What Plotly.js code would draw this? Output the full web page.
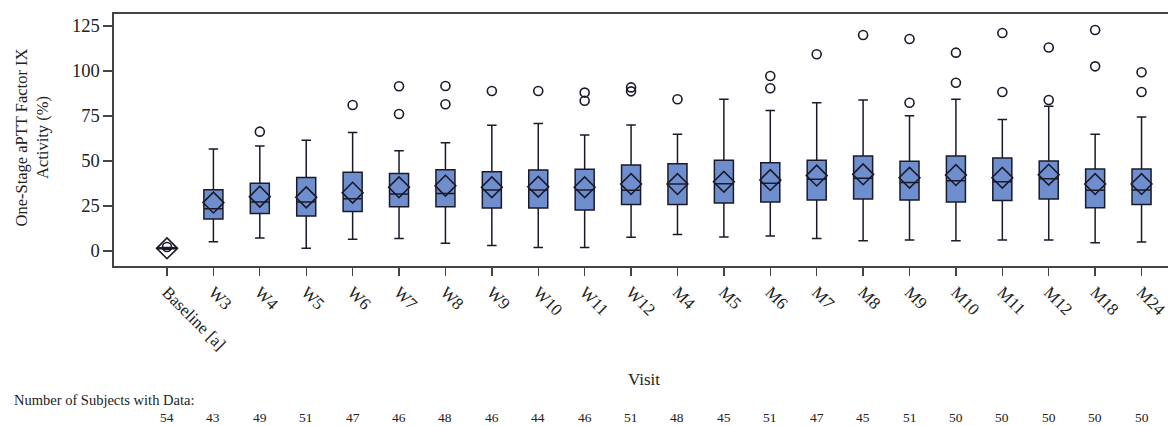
<!DOCTYPE html>
<html>
<head>
<meta charset="utf-8">
<script src="https://cdn.plot.ly/plotly-3.0.1.min.js"></script>
<style>html,body{margin:0;padding:0;background:#fff;}#chart{width:1171px;height:426px;}</style>
</head>
<body>
<div id="chart"></div>
<script>
const visits = ['Baseline [a]','W3','W4','W5','W6','W7','W8','W9','W10','W11','W12','M4','M5','M6','M7','M8','M9','M10','M11','M12','M18','M24'];
const lowerFence = [1.0, 5.2, 7.2, 1.5, 6.5, 6.9, 4.3, 3.0, 2.0, 1.9, 7.6, 9.2, 7.8, 8.3, 6.9, 5.7, 6.1, 5.7, 6.1, 6.1, 4.6, 5.0];
const q1Values   = [1.2, 17.8, 20.9, 19.4, 21.9, 24.6, 24.6, 23.9, 23.9, 22.8, 25.9, 25.9, 26.7, 27.2, 28.3, 28.9, 28.3, 27.2, 28.0, 28.9, 24.1, 25.9];
const medianValues = [1.5, 23.5, 27.2, 27.2, 29.1, 31.7, 32.0, 33.9, 33.9, 33.9, 33.7, 37.2, 37.4, 37.6, 39.8, 40.4, 38.1, 39.1, 38.5, 40.2, 33.7, 33.9];
const q3Values   = [1.8, 34.0, 37.6, 40.9, 43.7, 43.0, 45.2, 44.1, 45.0, 45.4, 47.8, 48.5, 50.4, 49.1, 50.4, 52.8, 49.8, 52.8, 51.7, 50.0, 45.6, 45.6];
const upperFence = [2.0, 56.7, 58.3, 61.5, 65.9, 55.7, 60.2, 69.8, 70.9, 64.4, 70.0, 64.8, 84.3, 78.0, 82.4, 83.9, 75.2, 84.3, 73.0, 80.4, 64.8, 74.4];
const meanValues = [1.5, 26.9, 30.2, 29.8, 32.4, 35.4, 36.3, 35.4, 35.7, 35.4, 37.2, 37.2, 38.5, 39.4, 41.9, 42.6, 40.7, 42.2, 40.7, 42.4, 37.2, 37.2];
const outlierValues = [[2.2], [], [66.3], [], [81.1], [91.5, 76.1], [91.7, 81.5], [88.9], [88.9], [88.0, 83.5], [90.9, 88.7], [84.3], [], [97.2, 90.4], [109.3], [120.0], [117.8, 82.4], [110.2, 93.5], [121.1, 88.3], [113.1, 83.9], [122.8, 102.6], [99.3, 88.3]];
const subjectCounts = [54, 43, 49, 51, 47, 46, 48, 46, 44, 46, 51, 48, 45, 51, 47, 45, 51, 50, 50, 50, 50, 50];
const yTicks = [0, 25, 50, 75, 100, 125];

const FONT = 'Liberation Serif, Times New Roman, serif';
const INK = '#1a1a2a';
const TXT = '#222222';

const outX = [], outY = [];
outlierValues.forEach((arr, i) => arr.forEach(v => { outX.push(visits[i]); outY.push(v); }));

const traces = [
  {
    type: 'box', x: visits,
    q1: q1Values, median: medianValues, q3: q3Values,
    lowerfence: lowerFence, upperfence: upperFence,
    width: 0.41, whiskerwidth: 0.5, boxpoints: false,
    fillcolor: '#6F8ECE', line: {color: INK, width: 1.5},
    hoverinfo: 'skip', showlegend: false
  },
  {
    type: 'scatter', mode: 'markers', x: visits, y: meanValues,
    marker: {symbol: 'diamond-open', size: 16, color: INK, line: {width: 1.6, color: INK}},
    showlegend: false, hoverinfo: 'skip'
  },
  {
    type: 'scatter', mode: 'markers', x: outX, y: outY,
    marker: {symbol: 'circle-open', size: 9, color: INK, line: {width: 1.6, color: INK}},
    showlegend: false, hoverinfo: 'skip'
  }
];

const annotations = subjectCounts.map((n, i) => ({
  x: visits[i], xref: 'x', y: (266 - 417) / 252, yref: 'paper', text: String(n),
  showarrow: false, xanchor: 'center', yanchor: 'middle',
  font: {family: FONT, size: 13.5, color: TXT}
}));
annotations.push({
  x: (12 - 114) / 1054, xref: 'paper', y: (266 - 400) / 252, yref: 'paper', text: 'Number of Subjects with Data:',
  showarrow: false, xanchor: 'left', yanchor: 'middle',
  font: {family: FONT, size: 14.5, color: TXT}
});
annotations.push({
  x: (644 - 114) / 1054, xref: 'paper', y: (266 - 379) / 252, yref: 'paper', text: 'Visit',
  showarrow: false, xanchor: 'center', yanchor: 'middle',
  font: {family: FONT, size: 17, color: TXT}
});
annotations.push({
  x: (31 - 114) / 1054, xref: 'paper', y: (266 - 137.5) / 252, yref: 'paper',
  text: 'One-Stage aPTT Factor IX<br>Activity (%)', textangle: -90,
  showarrow: false, xanchor: 'center', yanchor: 'middle',
  font: {family: FONT, size: 16.5, color: TXT}
});

const layout = {
  width: 1171, height: 426,
  margin: {l: 114, r: 3, t: 14, b: 160},
  paper_bgcolor: '#fff', plot_bgcolor: '#fff',
  font: {family: FONT, color: TXT},
  showlegend: false,
  xaxis: {
    type: 'category', categoryorder: 'array', categoryarray: visits,
    range: [-1.142, 21.57],
    showline: true, linecolor: '#444', linewidth: 1.6, mirror: true,
    ticks: 'outside', ticklen: 8, tickcolor: '#444', tickwidth: 1.3,
    tickangle: 45, tickfont: {family: FONT, size: 17, color: TXT},
    showgrid: false, zeroline: false
  },
  yaxis: {
    range: [-8.33, 131.67], tickvals: yTicks,
    showline: true, linecolor: '#444', linewidth: 1.6,
    ticks: 'outside', ticklen: 9, tickcolor: '#444', tickwidth: 1.3,
    tickfont: {family: FONT, size: 18.5, color: TXT},
    showgrid: false, zeroline: false
  },
  annotations: annotations
};

Plotly.newPlot('chart', traces, layout, {displayModeBar: false, staticPlot: true});
</script>
</body>
</html>
